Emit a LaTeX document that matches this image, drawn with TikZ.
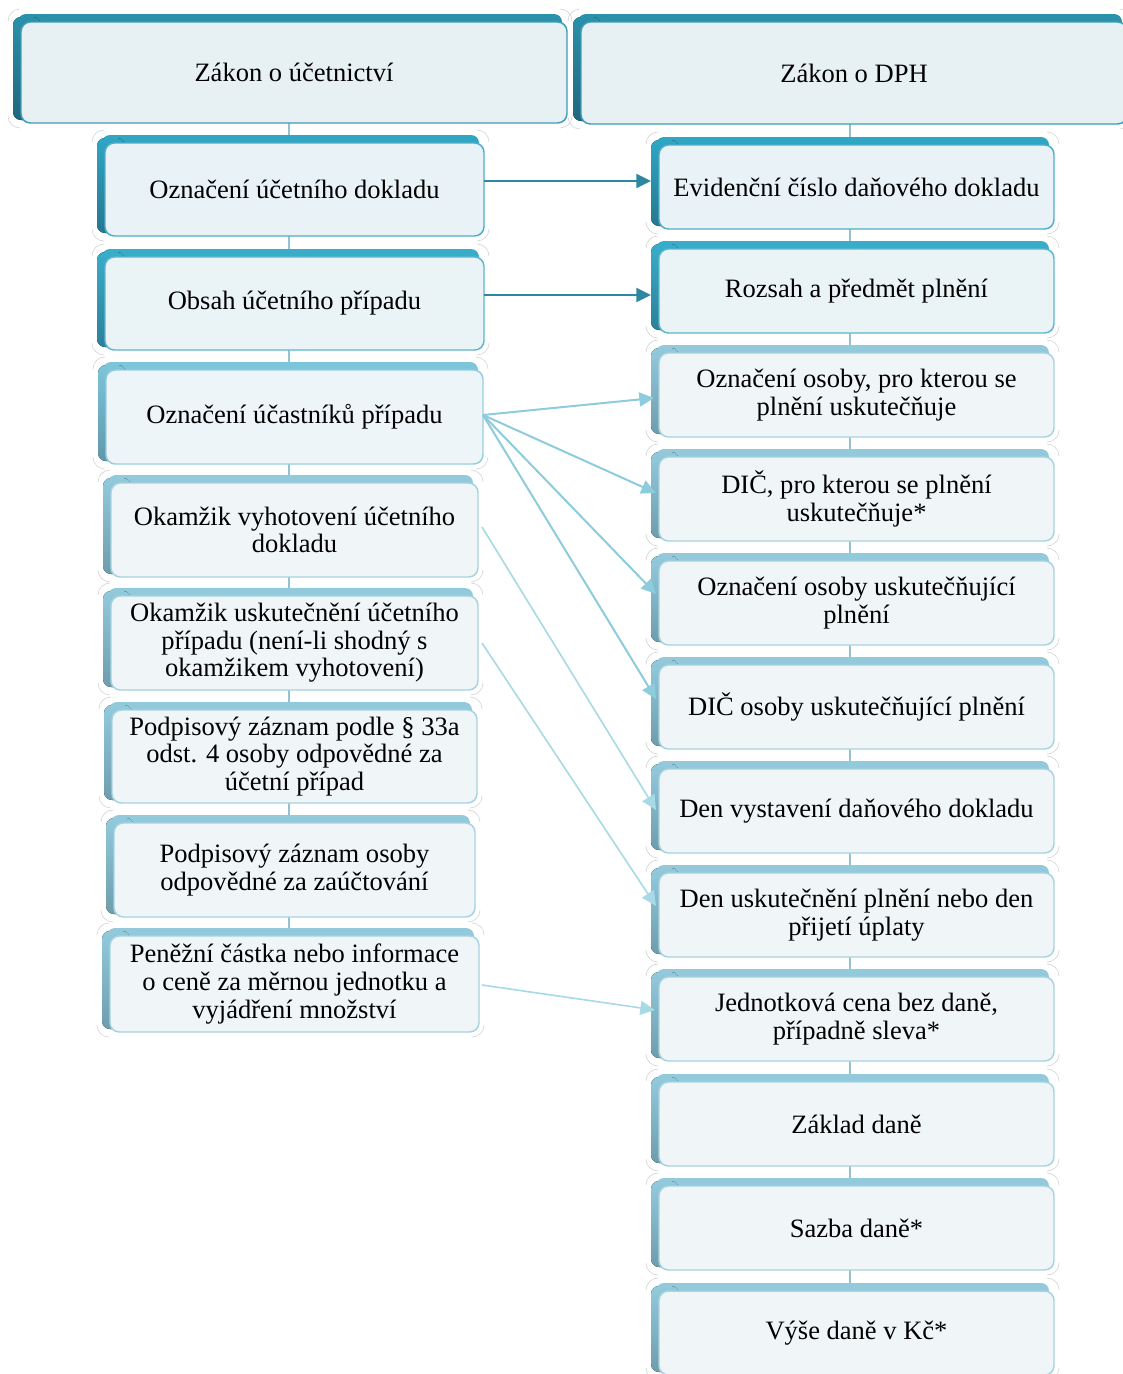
\documentclass[tikz,border=0pt]{standalone}
\usepackage{fontspec}
\setmainfont{Liberation Serif}
\usetikzlibrary{arrows.meta,calc,backgrounds}

% colour sets: band (top bevel), dark (left bevel), face fill, face outline
\definecolor{hdBand}{HTML}{2B90AA}\definecolor{hdDark}{HTML}{21677D}
\definecolor{hdFace}{HTML}{E7F0F3}\definecolor{hdLine}{HTML}{3E9DB7}
\definecolor{taBand}{HTML}{2EA6C4}\definecolor{taDark}{HTML}{277790}
\definecolor{taFace}{HTML}{E9F3F7}\definecolor{taLine}{HTML}{4FAEC8}
\definecolor{tbBand}{HTML}{38ADCA}\definecolor{tbDark}{HTML}{2C8098}
\definecolor{tbFace}{HTML}{EAF4F7}\definecolor{tbLine}{HTML}{5DB7CE}
\definecolor{mdBand}{HTML}{7CC5DA}\definecolor{mdDark}{HTML}{6198AA}
\definecolor{mdFace}{HTML}{EEF5F8}\definecolor{mdLine}{HTML}{95CEDE}
\definecolor{ltBand}{HTML}{92CADC}\definecolor{ltDark}{HTML}{6E9DAD}
\definecolor{ltFace}{HTML}{F0F5F7}\definecolor{ltLine}{HTML}{A6D3E1}
\definecolor{trunkC}{HTML}{93C3D2}
\definecolor{arrD}{HTML}{2D87A1}
\definecolor{arrM}{HTML}{8CCCDC}
\definecolor{arrL}{HTML}{A8D9E6}

\tikzset{
  face/.style={rectangle, rounded corners=7pt, line width=1.1pt, inner sep=0pt,
    outer sep=0pt, align=center, font=\fontsize{19.9}{20.7}\selectfont},
  halo/.style={draw=black!16, line width=0.5pt},
  trunk/.style={draw=trunkC, line width=1.5pt},
  link/.style={line width=1.5pt, -{Triangle[length=11pt,width=10.5pt]}},
  linkD/.style={link, draw=arrD},
  linkM/.style={link, draw=arrM},
  linkL/.style={link, draw=arrL, line width=1.2pt},
}

% bevelled box: name, face left, band top, face right, face bottom, colour set, text
\newcommand\panel[7]{%
  \draw[halo] (#2-13,#3+7) arc[start angle=180,end angle=90,radius=9pt];
  \draw[halo] (#4-7,#3-5) arc[start angle=90,end angle=0,radius=9pt];
  \draw[halo] (#4+5,#5-7) arc[start angle=0,end angle=-90,radius=9pt];
  \draw[halo] (#2-1,#5+5) arc[start angle=270,end angle=180,radius=9pt];
  \fill[#6Band, rounded corners=6pt] (#2-3,#3) rectangle (#4-5,#3+30);
  \fill[top color=#6Band, bottom color=#6Dark, rounded corners=6pt]
    (#2-8,#3+3) rectangle (#2+20,#5-3);
  \node[face, draw=#6Line, fill=#6Face,
    minimum width={(#4-#2)*0.75pt}, minimum height={(#5-#3-8)*0.75pt}]
    (#1) at ({(#2+#4)/2},{(#3+8+#5)/2}) {#7};
}

\begin{document}
\begin{tikzpicture}[x=0.75pt, y=-0.75pt]
\useasboundingbox (0,0) rectangle (1122,1374);

% column headers
\panel{Lh}{21}{14}{567}{123}{hd}{Zákon o účetnictví}
\panel{Rh}{581}{14}{1127}{124}{hd}{Zákon o DPH}

% accounting document items
\panel{L1}{105}{135}{484}{236}{ta}{Označení účetního dokladu}
\panel{L2}{105}{249}{484}{350}{tb}{Obsah účetního případu}
\panel{L3}{106}{362}{483}{464}{md}{Označení účastníků případu}
\panel{L4}{111}{475}{478}{577}{lt}{Okamžik vyhotovení účetního\\dokladu}
\panel{L5}{111}{588}{478}{690}{lt}{Okamžik uskutečnění účetního\\případu (není-li shodný s\\okamžikem vyhotovení)}
\panel{L6}{112}{702}{477}{803}{lt}{Podpisový záznam podle § 33a\\odst. 4 osoby odpovědné za\\účetní případ}
\panel{L7}{114}{815}{475}{917}{lt}{Podpisový záznam osoby\\odpovědné za zaúčtování}
\panel{L8}{110}{928}{479}{1032}{lt}{Peněžní částka nebo informace\\o ceně za měrnou jednotku a\\vyjádření množství}

% tax document items
\panel{R1}{659}{137}{1054}{229}{ta}{Evidenční číslo daňového dokladu}
\panel{R2}{659}{241}{1054}{333}{tb}{Rozsah a předmět plnění}
\panel{R3}{659}{345}{1054}{437}{lt}{Označení osoby, pro kterou se\\plnění uskutečňuje}
\panel{R4}{659}{449}{1054}{541}{lt}{DIČ, pro kterou se plnění\\uskutečňuje*}
\panel{R5}{659}{553}{1054}{645}{lt}{Označení osoby uskutečňující\\plnění}
\panel{R6}{659}{657}{1054}{749}{lt}{DIČ osoby uskutečňující plnění}
\panel{R7}{659}{761}{1054}{853}{lt}{Den vystavení daňového dokladu}
\panel{R8}{659}{865}{1054}{957}{lt}{Den uskutečnění plnění nebo den\\přijetí úplaty}
\panel{R9}{659}{969}{1054}{1061}{lt}{Jednotková cena bez daně,\\případně sleva*}
\panel{R10}{659}{1074}{1054}{1166}{lt}{Základ daně}
\panel{R11}{659}{1178}{1054}{1270}{lt}{Sazba daně*}
\panel{R12}{659}{1283}{1054}{1375}{lt}{Výše daně v Kč*}

% page background and hierarchy trunks behind the boxes
\coordinate (tl) at (289,0);
\coordinate (tr) at (850,0);
\begin{pgfonlayer}{background}
  \fill[white] (0,0) rectangle (1122,1374);
  \draw[trunk] (Lh.south -| tl) -- (L8.north -| tl);
  \draw[trunk] (Rh.south -| tr) -- (R12.north -| tr);
\end{pgfonlayer}

% correspondences between the two laws
\draw[linkD] ($(L1.east)+(0,-8.5)$) -- ($(R1.west)+(-8,-6)$);
\draw[linkD] ($(L2.east)+(0,-8.5)$) -- ($(R2.west)+(-8,4)$);
\draw[linkM] ($(L3.east)+(0,-2)$) -- ($(R3.west)+(-5,3)$);
\draw[linkM] ($(L3.east)+(0,-2)$) -- ($(R4.west)+(-3,-6)$);
\draw[linkM] ($(L3.east)+(0,-2)$) -- ($(R5.west)+(-3,-9)$);
\draw[linkM] ($(L3.east)+(0,-2)$) -- ($(R6.west)+(-3,-8)$);
\draw[linkL] ($(L4.east)+(4,-3)$) -- ($(R7.west)+(-3,-1)$);
\draw[linkL] ($(L5.east)+(4,0)$) -- ($(R8.west)+(-3,-9)$);
\draw[linkL] ($(L8.east)+(3,1)$) -- ($(R9.west)+(-4,-9)$);
\end{tikzpicture}
\end{document}
